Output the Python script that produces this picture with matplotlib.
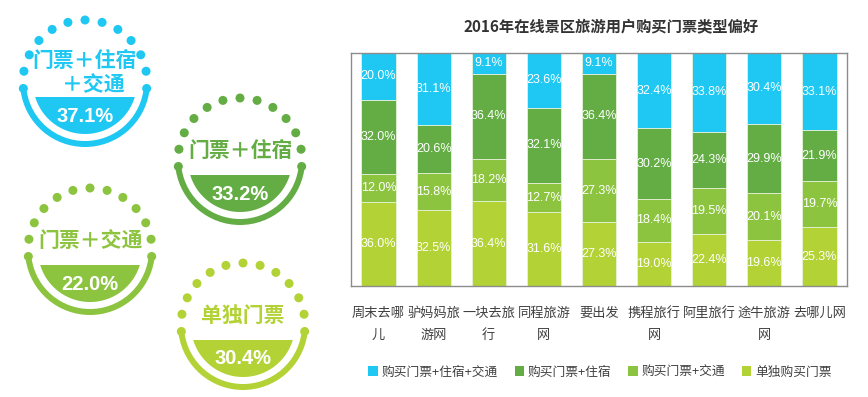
import matplotlib
matplotlib.use("Agg")
import matplotlib.pyplot as plt
import numpy as np
from matplotlib.patches import Wedge, Circle, Polygon, Patch

plt.rcParams['font.family'] = ['Noto Sans CJK SC', 'DejaVu Sans']

# ---------------- data ----------------
categories = ['周末去哪儿', '驴妈妈旅游网', '一块去旅行', '同程旅游网', '要出发',
              '携程旅行网', '阿里旅行', '途牛旅游网', '去哪儿网']
series_names = ['购买门票+住宿+交通', '购买门票+住宿', '购买门票+交通', '单独购买门票']
ticket_only = [36.0, 32.5, 36.4, 31.6, 27.3, 19.0, 22.4, 19.6, 25.3]
ticket_transport = [12.0, 15.8, 18.2, 12.7, 27.3, 18.4, 19.5, 20.1, 19.7]
ticket_hotel = [32.0, 20.6, 36.4, 32.1, 36.4, 30.2, 24.3, 29.9, 21.9]
ticket_hotel_transport = [20.0, 31.1, 9.1, 23.6, 9.1, 32.4, 33.8, 30.4, 33.1]

badge_labels = ['门票＋住宿\n＋交通', '门票＋住宿', '门票＋交通', '单独门票']
badge_values = [37.1, 33.2, 22.0, 30.4]

title = '2016年在线景区旅游用户购买门票类型偏好'

# colours (top series first)
c_blue = '#1ec8f2'
c_dgreen = '#63ad44'
c_mgreen = '#8cc43f'
c_ygreen = '#b3d235'
series_colors = [c_blue, c_dgreen, c_mgreen, c_ygreen]

W, H = 868, 397
fig = plt.figure(figsize=(W / 100, H / 100), dpi=100)

# ---------------- badges (pixel coordinate overlay) ----------------
bg = fig.add_axes([0, 0, 1, 1])
bg.set_xlim(0, W)
bg.set_ylim(0, H)
bg.axis('off')

badge_centers = [(85, 82), (240, 160), (90, 250), (243, 325)]


def draw_badge(ax, cx, cy_pix, color, label, value):
    cy = H - cy_pix
    R = 65
    ring_w = 6
    # lower ring
    ax.add_patch(Wedge((cx, cy), R, 189, 351, width=ring_w, color=color, lw=0))
    # inner segment below chord
    r_in = 52
    chord = 15
    a0 = np.degrees(np.arcsin(chord / r_in))
    th = np.radians(np.linspace(180 + a0, 360 - a0, 80))
    pts = np.column_stack([cx + r_in * np.cos(th), cy + r_in * np.sin(th)])
    ax.add_patch(Polygon(pts, closed=True, color=color, lw=0))
    # dots on upper arc
    angs = np.radians(np.linspace(-6, 186, 13))
    for a in angs:
        ax.add_patch(Circle((cx + 62 * np.cos(a), cy + 62 * np.sin(a)), 4.5,
                            color=color, lw=0))
    # labels
    if '\n' in label:
        l1, l2 = label.split('\n')
        ax.text(cx, cy + 22, l1, ha='center', va='center', fontsize=15,
                fontweight='bold', color=color)
        ax.text(cx + 8, cy - 3, l2, ha='center', va='center', fontsize=15,
                fontweight='bold', color=color)
    else:
        ax.text(cx, cy + 10, label, ha='center', va='center', fontsize=15,
                fontweight='bold', color=color)
    ax.text(cx, cy - 34, f'{value:.1f}%', ha='center', va='center',
            fontsize=14.5, fontweight='bold', color='white',
            family=['Liberation Sans', 'DejaVu Sans'])


for (cx, cy), col, lab, val in zip(badge_centers, series_colors, badge_labels, badge_values):
    draw_badge(bg, cx, cy, col, lab, val)

# ---------------- stacked bar chart ----------------
left, right, top, bottom = 351, 847, 53, 286
ax = fig.add_axes([left / W, 1 - bottom / H, (right - left) / W, (bottom - top) / H])

x = np.arange(len(categories))
stack = [ticket_only, ticket_transport, ticket_hotel, ticket_hotel_transport]
stack_colors = [c_ygreen, c_mgreen, c_dgreen, c_blue]
base = np.zeros(len(categories))
for vals, col in zip(stack, stack_colors):
    vals = np.array(vals)
    ax.bar(x, vals, bottom=base, width=0.62, color=col, edgecolor='#e6f2d8',
           linewidth=0.6)
    for xi, b, v in zip(x, base, vals):
        ax.text(xi, b + v / 2, f'{v:.1f}%', ha='center', va='center',
                fontsize=9, color='white',
                family=['Liberation Sans', 'DejaVu Sans'])
    base = base + vals

ax.set_xlim(-0.5, len(categories) - 0.5)
ax.set_ylim(0, 100)
ax.set_yticks([])


def wrap(s, n=4):
    return '\n'.join(s[i:i + n] for i in range(0, len(s), n))


ax.set_xticks(x)
ax.set_xticklabels([wrap(c) for c in categories], fontsize=9.5, color='#404040',
                   linespacing=1.9, va='top')
ax.tick_params(axis='x', length=0, pad=15)
for sp in ax.spines.values():
    sp.set_color('#8c8c8c')
    sp.set_linewidth(1.0)

fig.text(611 / W, 1 - 26 / H, title, ha='center', va='center', fontsize=11,
         fontweight='bold', color='#333333')

handles = [Patch(facecolor=c, edgecolor='none') for c in series_colors]
fig.legend(handles, series_names, loc='center', bbox_to_anchor=(600 / W, 1 - 372 / H),
           ncol=4, frameon=False, fontsize=9.2, handlelength=0.75, handleheight=0.75,
           handletextpad=0.3, columnspacing=1.3, labelcolor='#404040')

fig.savefig('out.png', dpi=100)
